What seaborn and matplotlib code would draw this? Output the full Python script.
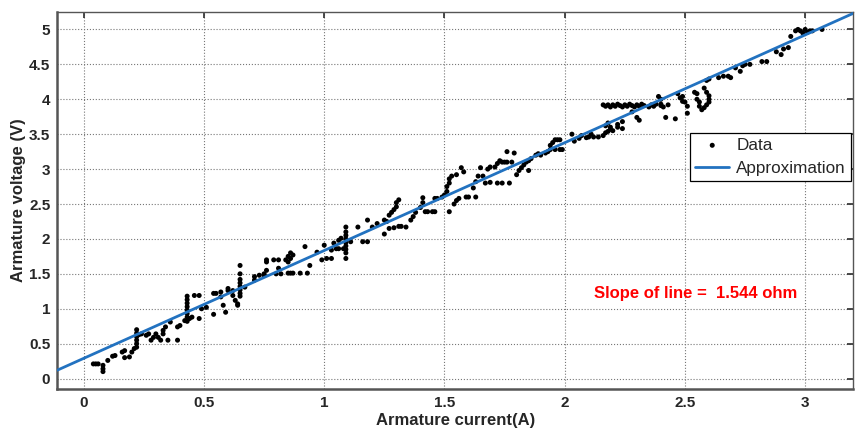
import numpy as np
import pandas as pd
import matplotlib
matplotlib.use("Agg")
import matplotlib.pyplot as plt
import seaborn as sns

# -----------------------------
# Data
# -----------------------------
current = [
    0.04, 0.05, 0.06, 0.08, 0.08, 0.08, 0.10, 0.12, 0.13, 0.16, 0.17, 0.17, 0.19, 0.20, 0.21,
    0.22, 0.22, 0.22, 0.22, 0.22, 0.22, 0.23, 0.24, 0.26, 0.27, 0.28, 0.29, 0.30, 0.31, 0.32,
    0.33, 0.33, 0.34, 0.35, 0.36, 0.39, 0.39, 0.40, 0.42,
    0.43, 0.43, 0.43, 0.43, 0.43, 0.43, 0.43, 0.43, 0.44, 0.45, 0.46, 0.48, 0.48, 0.49, 0.51,
    0.54, 0.54, 0.55, 0.57, 0.57, 0.58, 0.59, 0.60, 0.60, 0.62, 0.62, 0.63, 0.64, 0.64,
    0.65, 0.65, 0.65, 0.65, 0.65, 0.65, 0.65, 0.65, 0.67, 0.71, 0.71, 0.73, 0.75, 0.75, 0.76,
    0.76, 0.76, 0.79, 0.80, 0.81, 0.81, 0.82, 0.84, 0.85, 0.85, 0.86, 0.86, 0.87, 0.85, 0.86,
    0.87, 0.90, 0.93, 0.92, 0.94, 0.97, 0.99, 1.01, 1.03, 1.00, 1.03, 1.04, 1.06, 1.07, 1.05,
    1.06, 1.08,
    1.09, 1.09, 1.09, 1.09, 1.09, 1.09, 1.09, 1.09, 1.09,
    1.11, 1.14, 1.16, 1.18, 1.18, 1.20, 1.22, 1.25, 1.25, 1.26, 1.27, 1.28, 1.29, 1.30, 1.30,
    1.31, 1.27, 1.29, 1.31, 1.32, 1.34, 1.36, 1.37, 1.38, 1.40, 1.41, 1.41, 1.42, 1.43, 1.45,
    1.46, 1.46, 1.47, 1.49, 1.50, 1.51, 1.51, 1.52, 1.52, 1.53, 1.52, 1.54, 1.55, 1.56, 1.59,
    1.55, 1.57, 1.58, 1.60, 1.63, 1.62, 1.63, 1.64, 1.65, 1.66, 1.67, 1.69, 1.72, 1.74, 1.77,
    1.68, 1.69, 1.71, 1.72, 1.73, 1.74, 1.75, 1.76, 1.78, 1.76, 1.79, 1.80, 1.81, 1.82, 1.83,
    1.84, 1.85, 1.86, 1.85, 1.88, 1.89, 1.90, 1.92, 1.93, 1.94, 1.94, 1.95, 1.96, 1.97, 1.98,
    1.96, 1.98, 1.99, 2.03, 2.04, 2.06, 2.07, 2.09, 2.10, 2.11, 2.12, 2.14, 2.16, 2.17, 2.18,
    2.19, 2.19, 2.20, 2.22, 2.24,
    2.16, 2.17, 2.18, 2.19, 2.20, 2.21, 2.22, 2.23, 2.24, 2.25, 2.26, 2.27, 2.28, 2.29, 2.30,
    2.31, 2.32, 2.33, 2.35, 2.36, 2.37, 2.38, 2.40, 2.41, 2.43,
    2.17, 2.18, 2.22, 2.24, 2.28, 2.30, 2.31, 2.39, 2.40, 2.40, 2.42, 2.46, 2.47, 2.48, 2.49,
    2.49, 2.50, 2.51, 2.51,
    2.54, 2.55, 2.55, 2.56, 2.56, 2.57, 2.58, 2.59, 2.60, 2.60, 2.60, 2.59, 2.58, 2.59, 2.60,
    2.64, 2.66, 2.68, 2.69, 2.71, 2.73, 2.74, 2.75, 2.77, 2.82, 2.84, 2.88, 2.90, 2.91, 2.93,
    2.94, 2.96, 2.97, 2.98, 3.00, 3.01, 3.02, 3.03, 2.99, 3.07,
]
voltage = [
    0.21, 0.21, 0.21, 0.19, 0.14, 0.10, 0.26, 0.32, 0.33, 0.38, 0.40, 0.30, 0.31, 0.38, 0.43,
    0.45, 0.50, 0.55, 0.60, 0.65, 0.70, 0.63, 0.64, 0.62, 0.64, 0.55, 0.59, 0.64, 0.59, 0.55,
    0.64, 0.69, 0.74, 0.55, 0.81, 0.55, 0.74, 0.76, 0.83,
    0.82, 0.88, 0.93, 0.98, 1.03, 1.08, 1.13, 1.18, 0.86, 0.88, 1.19, 1.19, 0.86, 1.00, 1.02,
    1.22, 0.92, 1.22, 1.24, 1.17, 1.05, 0.95, 1.26, 1.29, 1.26, 1.19, 1.12, 1.07, 1.05,
    1.18, 1.22, 1.27, 1.32, 1.37, 1.42, 1.50, 1.62, 1.31, 1.41, 1.46, 1.48, 1.48, 1.50, 1.67,
    1.55, 1.70, 1.70, 1.50, 1.70, 1.58, 1.50, 1.70, 1.67, 1.75, 1.80, 1.72, 1.77, 1.51, 1.51,
    1.51, 1.51, 1.51, 1.89, 1.62, 1.81, 1.70, 1.72, 1.72, 1.91, 1.84, 1.94, 1.98, 2.01, 1.86,
    1.86, 1.86,
    1.72, 1.80, 1.85, 1.90, 1.95, 2.00, 2.05, 2.10, 2.17,
    1.96, 2.17, 1.96, 1.96, 2.27, 2.17, 2.22, 2.27, 2.07, 2.25, 2.34, 2.38, 2.42, 2.46, 2.52,
    2.56, 2.15, 2.16, 2.18, 2.18, 2.17, 2.27, 2.32, 2.38, 2.45, 2.52, 2.59, 2.39, 2.39, 2.39,
    2.39, 2.58, 2.58, 2.60, 2.63, 2.68, 2.75, 2.80, 2.86, 2.90, 2.39, 2.50, 2.55, 2.58, 2.60,
    2.92, 3.02, 2.96, 2.60, 2.60, 2.73, 2.82, 2.90, 3.02, 2.90, 2.80, 2.81, 2.80, 2.80, 2.80,
    3.00, 3.03, 3.03, 3.08, 3.12, 3.10, 3.10, 3.10, 3.10, 3.25, 3.23, 2.92, 2.98, 3.02, 3.06,
    3.10, 3.12, 3.15, 2.98, 3.20, 3.22, 3.20, 3.23, 3.25, 3.28, 3.34, 3.38, 3.42, 3.42, 3.42,
    3.28, 3.28, 3.28, 3.50, 3.40, 3.44, 3.48, 3.45, 3.46, 3.50, 3.46, 3.46, 3.48, 3.52, 3.54,
    3.60, 3.57, 3.55, 3.60, 3.58,
    3.92, 3.90, 3.92, 3.89, 3.92, 3.90, 3.93, 3.91, 3.89, 3.92, 3.90, 3.93, 3.91, 3.89, 3.92,
    3.90, 3.93, 3.91, 3.89, 3.92, 3.90, 3.93, 3.91, 3.89, 3.92,
    3.62, 3.66, 3.64, 3.68, 3.82, 3.74, 3.70, 4.04, 4.00, 3.93, 3.74, 3.72, 4.08, 4.02, 3.97,
    4.04, 3.96, 3.90, 3.80,
    4.10, 4.08, 4.00, 3.96, 3.90, 3.85, 3.88, 3.92, 3.96, 4.00, 4.05, 4.10, 4.16, 4.27, 4.29,
    4.31, 4.33, 4.33, 4.31, 4.45, 4.40, 4.48, 4.50, 4.50, 4.54, 4.54, 4.68, 4.64, 4.72, 4.74,
    4.90, 4.98, 5.00, 4.98, 5.00, 4.96, 4.98, 4.98, 4.95, 5.00,
]

# fitted line: V = slope * I + offset
slope = 1.544
offset = 0.29

x_ticks = [0, 0.5, 1, 1.5, 2, 2.5, 3]
y_ticks = [0, 0.5, 1, 1.5, 2, 2.5, 3, 3.5, 4, 4.5, 5]
x_range = (-0.11, 3.2)
y_range = (-0.15, 5.25)

df = pd.DataFrame({"current": current, "voltage": voltage})
fit_x = np.array(x_range)
fit = pd.DataFrame({"current": fit_x, "voltage": slope * fit_x + offset})

# -----------------------------
# Settings
# -----------------------------
sns.set_theme(style="white")
plt.rcParams["font.family"] = ["Liberation Sans Narrow", "Liberation Sans", "DejaVu Sans"]

fig = plt.figure(figsize=(8.55, 4.28), dpi=100)
ax = fig.add_axes([0.067, 0.091, 0.931, 0.881])

sns.scatterplot(data=df, x="current", y="voltage", color="black", s=13,
                edgecolor="none", label="Data", ax=ax, zorder=3)
sns.lineplot(data=fit, x="current", y="voltage", color="#2272C0", linewidth=2,
             label="Approximation", ax=ax, zorder=4)

ax.set_xlim(*x_range)
ax.set_ylim(*y_range)
ax.set_xticks(x_ticks)
ax.set_yticks(y_ticks)
ax.set_xticklabels([f"{t:g}" for t in x_ticks], fontsize=11, fontweight="bold")
ax.set_yticklabels([f"{t:g}" for t in y_ticks], fontsize=11, fontweight="bold")
ax.tick_params(direction="in", length=4, top=True, right=True, color="#333333", pad=5)

ax.grid(True, linestyle=":", color="#777777", linewidth=0.8)
for s in ax.spines.values():
    s.set_color("#555555")
    s.set_linewidth(1.0)
ax.spines["bottom"].set_linewidth(1.8)
ax.spines["left"].set_linewidth(1.8)

ax.set_xlabel("Armature current(A)", fontsize=12, fontweight="bold", labelpad=2)
ax.set_ylabel("Armature voltage (V)", fontsize=12, fontweight="bold", labelpad=2)

leg = ax.legend(loc="upper right", bbox_to_anchor=(0.997, 0.68), fancybox=False,
                edgecolor="black", framealpha=1, borderpad=0.3, handlelength=2.0,
                handletextpad=0.4, borderaxespad=0,
                prop={"family": ["Liberation Sans", "DejaVu Sans"], "size": 12.3})
leg.get_frame().set_linewidth(0.9)

ax.text(2.12, 1.22, "Slope of line =  1.544 ohm", color="red", fontsize=12,
        fontweight="bold", va="center", family=["Liberation Sans", "DejaVu Sans"])

fig.savefig("out.png", dpi=100)
